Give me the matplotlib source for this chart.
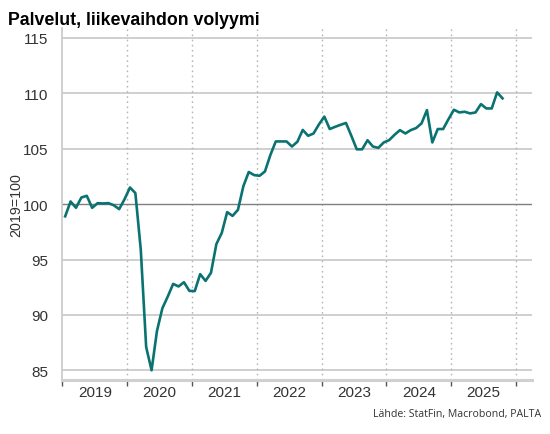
import matplotlib
matplotlib.use("Agg")
import matplotlib.pyplot as plt
import numpy as np

title = "Palvelut, liikevaihdon volyymi"
ylabel = "2019=100"
source = "Lähde: StatFin, Macrobond, PALTA"
years = ["2019", "2020", "2021", "2022", "2023", "2024", "2025"]
yticks = [85, 90, 95, 100, 105, 110, 115]

v2019 = [98.9, 100.24, 99.67, 100.6, 100.75, 99.67, 100.09, 100.06, 100.09, 99.9, 99.55, 100.45]
v2020 = [101.5, 101.0, 95.9, 87.1, 85.0, 88.55, 90.6, 91.66, 92.8, 92.57, 92.95, 92.17]
v2021 = [92.15, 93.68, 93.07, 93.8, 96.39, 97.4, 99.28, 98.94, 99.49, 101.62, 102.9, 102.62]
v2022 = [102.56, 102.95, 104.43, 105.66, 105.66, 105.66, 105.2, 105.63, 106.7, 106.17, 106.38, 107.2]
v2023 = [107.9, 106.78, 106.98, 107.16, 107.33, 106.17, 104.95, 104.95, 105.77, 105.2, 105.08, 105.57]
v2024 = [105.78, 106.26, 106.68, 106.38, 106.68, 106.87, 107.29, 108.49, 105.57, 106.78, 106.78, 107.68]
v2025 = [108.52, 108.28, 108.34, 108.19, 108.28, 109.03, 108.64, 108.64, 110.09, 109.55]

values = v2019 + v2020 + v2021 + v2022 + v2023 + v2024 + v2025
x = np.arange(len(values)) + 0.5  # month index, mid-month

fig = plt.figure(figsize=(5.5, 4.35), dpi=100)
ax = fig.add_axes([0.1136, 0.1248, 0.8531, 0.8085])

font = "Liberation Sans"
txtcol = "#333333"

# grid
for yv in yticks:
    if yv == 100:
        ax.axhline(yv, color="#7f7f7f", lw=1.0, zorder=2)
    else:
        ax.axhline(yv, color="#cfcfcf", lw=1.4, zorder=1)
for i in range(1, len(years) + 1):
    ax.axvline(12 * i, color="#b5b5b5", lw=1.0, ls=(0, (1.2, 2.5)), zorder=1)

ax.plot(x, values, color="#0a7371", lw=1.9, zorder=3, solid_joinstyle="round")

ax.set_xlim(0, 86.9)
ax.set_ylim(84.15, 115.9)

ax.set_yticks(yticks)
ax.set_yticklabels([str(t) for t in yticks], fontsize=11, color=txtcol, family=font)
ax.tick_params(axis="y", length=0, pad=10)

ax.set_xticks([12 * i for i in range(len(years) + 1)])
ax.set_xticklabels([])
ax.set_xticks([12 * i + 6 for i in range(len(years))], minor=True)
ax.set_xticklabels(years, minor=True, fontsize=11, color=txtcol, family=font)
ax.tick_params(axis="x", which="major", length=4, width=1.0, color="#555555", direction="out")
ax.tick_params(axis="x", which="minor", length=0, pad=4)

for s in ["top", "right"]:
    ax.spines[s].set_visible(False)
ax.spines["left"].set_color("#c8c8c8")
ax.spines["left"].set_linewidth(1.2)
ax.spines["bottom"].set_color("#d0d0d0")
ax.spines["bottom"].set_linewidth(2.2)

ax.set_ylabel(ylabel, fontsize=10.3, color=txtcol, family=font, va="center")
ax.yaxis.set_label_coords((16 - 62.5) / 469.2, (435 - 205 - 54.3) / 351.7)

fig.text(8 / 550, 1 - 25 / 435, title, fontsize=12.8, fontweight="bold", family=font,
         color="black", ha="left", va="baseline")
fig.text(541 / 550, 1 - 415 / 435, source, fontsize=7.6, family="Open Sans", color=txtcol,
         ha="right", va="center")

fig.savefig("out.png", dpi=100)
